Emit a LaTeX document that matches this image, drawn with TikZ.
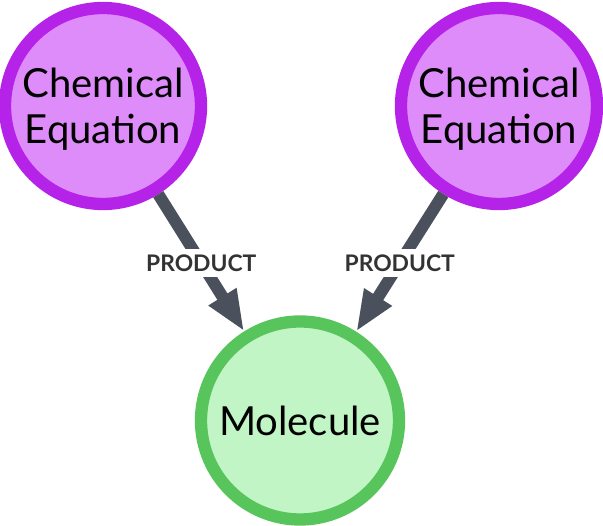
\documentclass[tikz,border=0pt]{standalone}
\usepackage{fontspec}
\setmainfont{Lato}
\usetikzlibrary{arrows.meta}
\definecolor{eqfill}{HTML}{DF8CFB}
\definecolor{eqline}{HTML}{B522E8}
\definecolor{molfill}{HTML}{C2F5C6}
\definecolor{molline}{HTML}{57C55C}
\definecolor{relcol}{HTML}{4B515C}
\begin{document}
\begin{tikzpicture}[line join=round,
	ent/.style={circle, line width=3.5pt, inner sep=0pt, text depth=0pt, align=center, font=\fontsize{11.4}{13.1}\selectfont},
	eq/.style={ent, draw=eqline, fill=eqfill, minimum size=1.96cm},
	mol/.style={ent, draw=molline, fill=molfill, minimum size=1.98cm},
	rel/.style={draw=relcol, line width=3.4pt, -{Triangle[length=4.1mm,width=3mm]}},
	lbl/.style={fill=white, text=black!80, inner sep=1.6pt, font=\fontsize{6.5}{7.5}\selectfont\bfseries}]
	\useasboundingbox (0,0) rectangle (6.03,-5.26);
	\node[eq] (eqA) at (1.03,-1.06) {Chemical\\Equation};
	\node[eq] (eqB) at (4.99,-1.06) {Chemical\\Equation};
	\node[mol] (mol) at (3.00,-4.205) {Molecule};
	\draw[rel] (eqA) -- node[lbl] {PRODUCT} (mol);
	\draw[rel] (eqB) -- node[lbl] {PRODUCT} (mol);
\end{tikzpicture}
\end{document}
